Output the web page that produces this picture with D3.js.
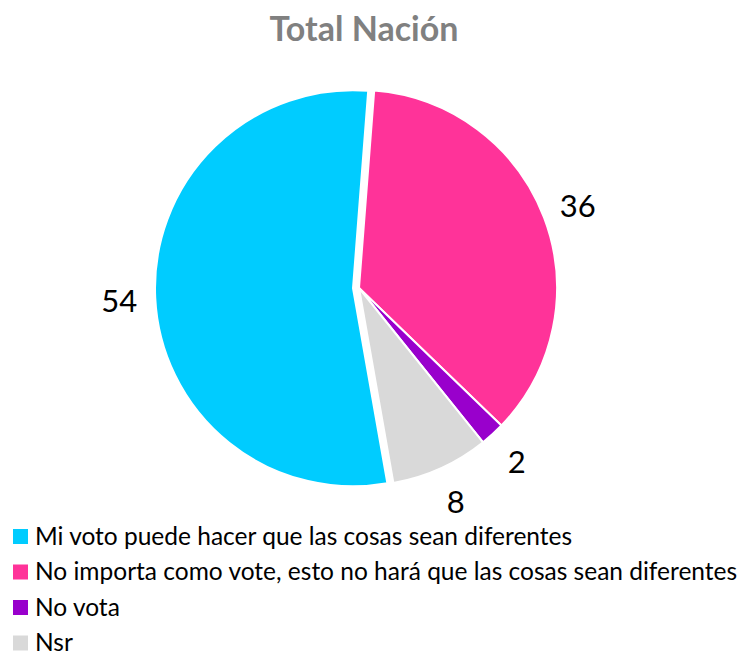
<html>
<head><meta charset="utf-8"></head>
<script src='https://d3js.org/d3.v7.min.js'></script>
<body style="margin:0">
    <div id='vis'></div>
    <script>
        const title = 'Total Nación';
        const categories = [
            'Mi voto puede hacer que las cosas sean diferentes',
            'No importa como vote, esto no hará que las cosas sean diferentes',
            'No vota',
            'Nsr'
        ];
        const values = [54, 36, 2, 8];
        const colors = ['#00CCFF', '#FF3399', '#9900CC', '#D9D9D9'];
        const explode = [6, 0, 0, 0];

        const width = 753, height = 657;
        const cx = 359, cy = 288, radius = 198;
        const font = 'Lato, "Open Sans", sans-serif';

        let svg = d3.select('#vis').append('svg').attr('width', width).attr('height', height)
            .style('background', '#fff');

        svg.append('text')
            .attr('x', 364).attr('y', 41)
            .attr('text-anchor', 'middle')
            .attr('font-family', font).attr('font-weight', 'bold')
            .attr('font-size', 34).attr('fill', '#808080')
            .text(title);

        let start = 170 * Math.PI / 180;
        let pie = d3.pie().sort(null).startAngle(start).endAngle(start + 2 * Math.PI);
        let arcs = pie(values);
        let arc = d3.arc().innerRadius(0).outerRadius(radius);
        let labelArc = d3.arc().innerRadius(234).outerRadius(234);

        let shift = (d, i) => {
            let a = (d.startAngle + d.endAngle) / 2;
            return [Math.sin(a) * explode[i], -Math.cos(a) * explode[i]];
        };

        let g = svg.append('g').attr('transform', `translate(${cx},${cy})`);

        g.selectAll('.slice').data(arcs).enter().append('path')
            .attr('class', 'slice')
            .attr('fill', (d, i) => colors[i])
            .attr('stroke', '#fff')
            .attr('stroke-width', 2)
            .attr('d', arc)
            .attr('transform', (d, i) => `translate(${shift(d, i)})`);

        g.selectAll('.lbl').data(arcs).enter().append('text')
            .attr('class', 'lbl')
            .attr('transform', (d, i) => {
                let c = labelArc.centroid(d), s = shift(d, i);
                return `translate(${c[0] + s[0]},${c[1] + s[1]})`;
            })
            .attr('text-anchor', 'middle')
            .attr('dominant-baseline', 'central')
            .attr('font-family', font).attr('font-size', 31).attr('fill', '#000')
            .text(d => d.data);

        // legend: square + label, one row per category
        let legend = svg.append('g').attr('transform', 'translate(13,536.5)');
        let items = legend.selectAll('.item').data(categories).enter().append('g')
            .attr('class', 'item')
            .attr('transform', (d, i) => `translate(0,${i * 35.5})`);
        items.append('rect')
            .attr('x', 0).attr('y', -7.5).attr('width', 15).attr('height', 15)
            .attr('fill', (d, i) => colors[i]);
        items.append('text')
            .attr('x', 22).attr('y', 8)
            .attr('font-family', font).attr('font-size', 24.5).attr('fill', '#000')
            .text(d => d);
    </script>
</body>
</html>
